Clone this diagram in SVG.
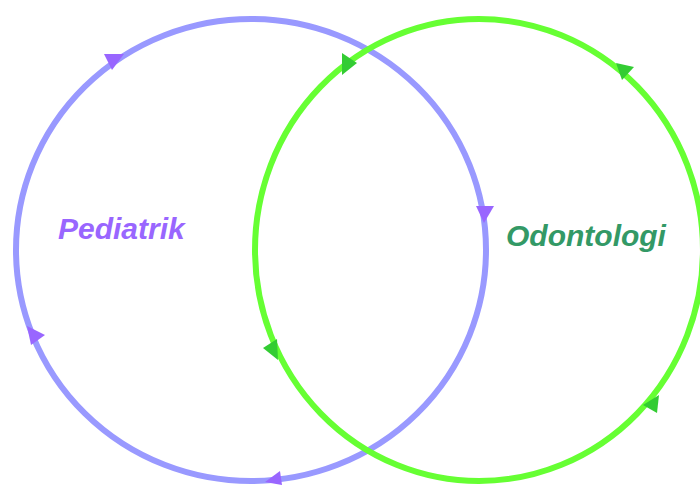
<svg xmlns="http://www.w3.org/2000/svg" width="700" height="485" viewBox="0 0 700 485">
<style>
.ring{fill:none;stroke-width:6}
.blue{stroke:#9999ff}
.green{stroke:#66ff33}
.ab{fill:#9966ff}
.ag{fill:#33cc33}
.lbl{font-family:"Liberation Sans",Arial,sans-serif;font-weight:bold;font-style:italic;font-size:30px}
</style>
<rect width="700" height="485" fill="#ffffff"/>
<g id="connectors">
<ellipse class="ring blue" cx="251" cy="250" rx="235" ry="231"/>
<ellipse class="ring green" cx="479" cy="250" rx="224" ry="231"/>
<polygon class="ab" points="104,54 124,54 112,70"/>
<polygon class="ab" points="476,206 494,206 484,223"/>
<polygon class="ab" points="27,326 31,345 45,335"/>
<polygon class="ab" points="265,482 280,471 282,485"/>
<polygon class="ag" points="342,53 342,75 357,63"/>
<polygon class="ag" points="616,63 634,67 622,80"/>
<polygon class="ag" points="263,348 277,339 278,360"/>
<polygon class="ag" points="643,405 659,395 657,413"/>
</g>
<g id="pediatrik">
<text class="lbl" x="58" y="239" fill="#9966ff">Pediatrik</text>
</g>
<g id="odontologi">
<text class="lbl" x="506" y="246" fill="#339966">Odontologi</text>
</g>
</svg>
